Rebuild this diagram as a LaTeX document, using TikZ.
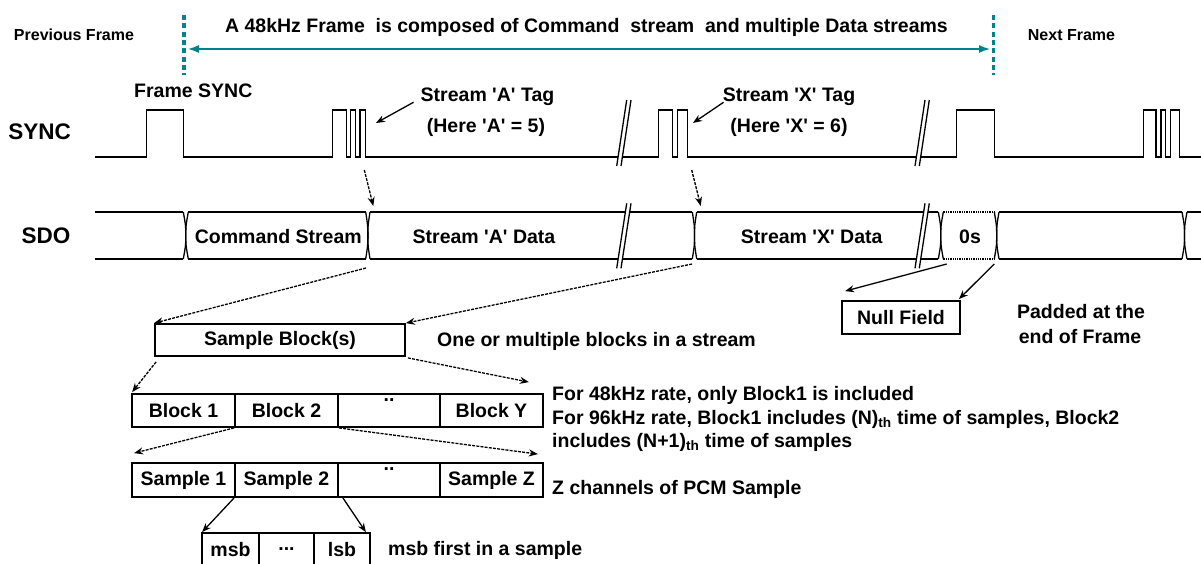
\documentclass[tikz,border=0pt]{standalone}
\usepackage{fontspec}
\setmainfont{Liberation Sans}
\usetikzlibrary{arrows.meta}
\definecolor{frameteal}{HTML}{00848A}
\newcommand{\qs}{\textquotesingle}
\tikzset{
  txt/.style={font=\fontsize{19.5}{23}\selectfont\bfseries, inner sep=0pt},
  smalltxt/.style={font=\fontsize{16}{19}\selectfont\bfseries, inner sep=0pt},
  bigtxt/.style={font=\fontsize{22.5}{26}\selectfont\bfseries, inner sep=0pt},
  wave/.style={line width=1.3pt, line join=miter},
  cell/.style={draw, line width=1.8pt, inner sep=0pt, font=\fontsize{19.5}{23}\selectfont\bfseries},
  darr/.style={line width=1.3pt, dash pattern=on 3pt off 1.2pt, -{Stealth[length=9pt,width=7pt]}},
  sarr/.style={line width=1.3pt, -{Stealth[length=9pt,width=7pt]}},
  tealdash/.style={frameteal, line width=3.6pt, dash pattern=on 5pt off 3.3pt},
  tealarr/.style={frameteal, line width=1.3pt, {Latex[length=11pt,width=8pt]}-{Latex[length=11pt,width=8pt]}},
  brkfill/.style={fill=white, draw=none},
}
\begin{document}
\begin{tikzpicture}[x=1pt,y=-1pt]
\useasboundingbox (0,0) rectangle (1201,563);

% ---- frame markers ----
\coordinate (pfa) at (184,15);   \coordinate (pfb) at (184,75);
\coordinate (nfa) at (993.4,15); \coordinate (nfb) at (993.4,75);
\coordinate (arl) at (188,49);   \coordinate (arr) at (990,49);
\draw[tealdash] (pfa) -- (pfb);
\draw[tealdash] (nfa) -- (nfb);
\draw[tealarr] (arl) -- (arr);
\node[smalltxt, anchor=base] (prevf) at (74,40.7) {Previous Frame};
\node[smalltxt, anchor=base] (nextf) at (1071.5,40.7) {Next Frame};
\node[txt, anchor=base] (title) at (586.5,32) {A 48kHz Frame\ \ is composed of Command\ \ stream\ \ and multiple Data streams};

% ---- SYNC ----
\node[bigtxt, anchor=base] (synclbl) at (39.6,139) {SYNC};
\node[txt, anchor=base] (fsync) at (193.3,97) {Frame SYNC};
\draw[wave] (95,157) -- (146.7,157) -- (146.7,110) -- (183.3,110) -- (183.3,157)
  -- (332.3,157) -- (332.3,110) -- (346.7,110) -- (346.7,157) -- (350.7,157) -- (350.7,110)
  -- (355.7,110) -- (355.7,157) -- (360,157) -- (360,110) -- (365.7,110) -- (365.7,157)
  -- (658.3,157) -- (658.3,110) -- (672.7,110) -- (672.7,157) -- (677.3,157) -- (677.3,110)
  -- (687.3,110) -- (687.3,157) -- (956.7,157) -- (956.7,110) -- (994.3,110) -- (994.3,157)
  -- (1143.4,157) -- (1143.4,110) -- (1156,110) -- (1156,157) -- (1161,157) -- (1161,110)
  -- (1165.6,110) -- (1165.6,157) -- (1170.2,157) -- (1170.2,110) -- (1179.8,110) -- (1179.8,157)
  -- (1201,157);
\foreach \x in {616.7, 915} {
  \fill[brkfill] (\x,166) -- ({\x+10},100) -- ({\x+14.3},100) -- ({\x+4.3},166) -- cycle;
  \draw[wave] (\x,166) -- ({\x+10},100) ({\x+4.3},166) -- ({\x+14.3},100);
}
\node[txt, anchor=base] (tagA) at (487.5,101) {Stream \qs A\qs\ Tag};
\node[txt, anchor=base] (hereA) at (486,132) {(Here \qs A\qs\ = 5)};
\node[txt, anchor=base] (tagX) at (789,101) {Stream \qs X\qs\ Tag};
\node[txt, anchor=base] (hereX) at (789,132) {(Here \qs X\qs\ = 6)};
\coordinate (tagAend) at (376,123);
\coordinate (tagXend) at (693,123);
\draw[sarr] ([shift={(-7,6)}]tagA.west) -- (tagAend);
\draw[sarr] ([shift={(1,6)}]tagX.west) -- (tagXend);

% ---- SDO ----
\node[bigtxt, anchor=base] (sdolbl) at (46,243.7) {SDO};
\foreach \a/\b in {95/183.3, 188.3/365.7, 370/692.3, 696.7/938.3, 999/1182, 1187/1201} {
  \draw[wave] (\a,212) -- (\b,212) (\a,259) -- (\b,259);
}
\draw[line width=1.3pt, densely dotted] (943.3,212) -- (994.3,212) (943.3,259) -- (994.3,259);
\foreach \a/\b in {183.3/188.3, 365.7/370, 692.3/696.7, 938.3/943.3, 994.3/999, 1182/1187} {
  \draw[wave] (\a,212) .. controls ({(\a+\b)/2},226) .. ({(\a+\b)/2},235.5) .. controls ({(\a+\b)/2},245) .. (\a,259);
  \draw[wave] (\b,212) .. controls ({(\a+\b)/2},226) .. ({(\a+\b)/2},235.5) .. controls ({(\a+\b)/2},245) .. (\b,259);
}
\foreach \x in {616.7, 915} {
  \fill[brkfill] (\x,268.3) -- ({\x+10},203.3) -- ({\x+14.3},203.3) -- ({\x+4.3},268.3) -- cycle;
  \draw[wave] (\x,268.3) -- ({\x+10},203.3) ({\x+4.3},268.3) -- ({\x+14.3},203.3);
}
\node[txt, anchor=base] (cmd) at (278.3,243) {Command Stream};
\node[txt, anchor=base] (dataA) at (484,243) {Stream \qs A\qs\ Data};
\node[txt, anchor=base] (dataX) at (811.7,243) {Stream \qs X\qs\ Data};
\node[txt, anchor=base] (zeros) at (970,243) {0s};

\coordinate (dnA1) at (364.3,170); \coordinate (dnA2) at (373.3,206);
\coordinate (dnX1) at (691.7,170); \coordinate (dnX2) at (700.7,206);
\draw[darr] (dnA1) -- (dnA2);
\draw[darr] (dnX1) -- (dnX2);

% ---- Null field ----
\node[cell, minimum width=118pt, minimum height=33pt] (nf) at (901,317.5) {Null Field};
\node[txt, anchor=base] (pad1) at (1081,318.7) {Padded at the};
\node[txt, anchor=base] (pad2) at (1080,343.7) {end of Frame};
\coordinate (zl) at (946.7,264); \coordinate (zr) at (994.3,264);
\draw[sarr] (zl) -- ([shift={(4,-9)}]nf.north west);
\draw[sarr] (zr) -- ([shift={(-2,-1)}]nf.north east);

% ---- Sample blocks ----
\node[cell, minimum width=250pt, minimum height=32pt] (sb) at (280,340) {Sample Block(s)};
\node[txt, anchor=base west] (sbnote) at (437,346) {One or multiple blocks in a stream};
\coordinate (cA) at (366,268); \coordinate (cX) at (692,264);
\draw[darr] (cA) -- (sb.north west);
\draw[darr] (cX) -- (sb.north east);

\node[cell, minimum width=103pt, minimum height=33pt] (b1) at (183.5,410.5) {Block 1};
\node[cell, minimum width=103pt, minimum height=33pt] (b2) at (286.5,410.5) {Block 2};
\node[cell, minimum width=102pt, minimum height=33pt] (b3) at (389,410.5) {};
\node[cell, minimum width=103pt, minimum height=33pt] (b4) at (491.5,410.5) {Block Y};
\node[txt] (bdots) at (389,400) {..};
\draw[darr] ([shift={(2,5)}]sb.south west) -- ([shift={(1,-1)}]b1.north west);
\draw[darr] ([shift={(2,1)}]sb.south east) -- ([shift={(-15,-11)}]b4.north east);

\node[txt, anchor=base west] (r1) at (552,400.5) {For 48kHz rate, only Block1 is included};
\node[txt, anchor=base west] (r2) at (552,424.3) {For 96kHz rate, Block1 includes (N)\textsubscript{th} time of samples, Block2};
\node[txt, anchor=base west] (r3) at (552,447.7) {includes (N+1)\textsubscript{th} time of samples};

\node[cell, minimum width=103pt, minimum height=34pt] (s1) at (183.5,480) {Sample 1};
\node[cell, minimum width=103pt, minimum height=34pt] (s2) at (286.5,480) {Sample 2};
\node[cell, minimum width=102pt, minimum height=34pt] (s3) at (389,480) {};
\node[cell, minimum width=103pt, minimum height=34pt] (s4) at (491.5,480) {Sample Z};
\node[txt] (sdots) at (389,469) {..};
\draw[darr] (b2.south west) -- ([shift={(3,-9)}]s1.north west);
\draw[darr] (b2.south east) -- ([shift={(-6,-8)}]s4.north east);
\node[txt, anchor=base west] (znote) at (552,494) {Z channels of PCM Sample};

\node[cell, minimum width=57pt, minimum height=33pt] (m1) at (230.5,549.5) {msb};
\node[cell, minimum width=55pt, minimum height=33pt] (m2) at (286.5,549.5) {...};
\node[cell, minimum width=56pt, minimum height=33pt] (m3) at (342,549.5) {lsb};
\draw[sarr] (s2.south west) -- ([shift={(1,0)}]m1.north west);
\draw[sarr] ([xshift=4pt]s2.south east) -- ([shift={(-5,0)}]m3.north east);
\node[txt, anchor=base west] (mnote) at (388,555) {msb first in a sample};
\end{tikzpicture}
\end{document}
